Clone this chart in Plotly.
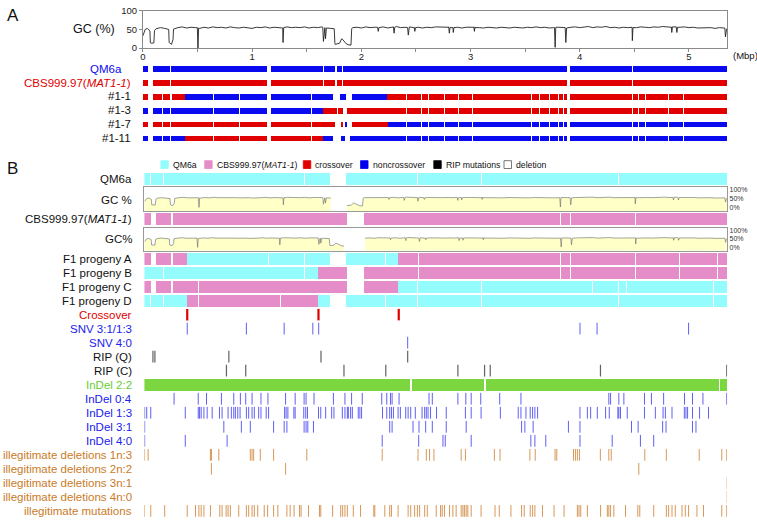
import numpy as np
import plotly.graph_objects as go

W, H = 757, 524
FONT = "Arial, 'Liberation Sans', sans-serif"
L = 5.35  # Mbp shown

# ================= Panel A data =================
GC_STEP = 0.04
GC_A = [33, 53, 13, 52, 55, 53, 15, 51, 55, 57,
        54, 56, 55, 53, 56, 54, 57, 55, 56, 54,
        57, 55, 54, 56, 55, 53, 56, 55, 57, 54,
        56, 55, 54, 57, 55, 56, 55, 57, 54, 56,
        55, 57, 54, 53, 10, 13, 20, 9, 55, 56,
        54, 57, 55, 56, 55, 57, 54, 56, 58, 55,
        56, 57, 55, 56, 54, 56, 55, 57, 56, 55,
        57, 55, 56, 54, 56, 55, 57, 55, 54, 56,
        55, 54, 56, 55, 54, 56, 55, 54, 56, 55,
        57, 55, 56, 54, 55, 56, 55, 54, 56, 57,
        55, 56, 58, 55, 57, 56, 58, 55, 56, 54,
        56, 55, 56, 55, 57, 56, 55, 57, 56, 58,
        56, 57, 58, 56, 57, 55, 56, 54, 55, 54,
        55, 53, 55, 54]
GC_DIP_X = [0.02, 0.064, 0.068, 0.100, 0.106,
            0.236, 0.262, 0.276,
            0.498, 0.504, 0.510,
            1.277, 1.283, 1.289,
            1.647, 1.653, 1.659, 1.666, 1.672, 1.678,
            1.752, 1.758, 1.82, 1.83, 1.86, 1.905, 1.912,
            2.149, 2.155, 2.161, 2.294, 2.300, 2.306, 2.424, 2.430, 2.436, 2.484, 2.490, 2.496,
            2.800, 2.806, 2.812, 2.836, 2.842, 2.848, 3.030, 3.036, 3.042,
            3.769, 3.775, 3.781, 3.867, 3.873, 3.879, 4.476, 4.482, 4.488,
            4.837, 4.843, 4.849, 4.884, 4.890, 4.896, 5.329, 5.335, 5.345]
GC_DIP_Y = [50, 46, 14, 14, 47,
            50, 10, 24,
            55, 0, 54,
            56, 15, 55,
            56, 18, 54, 55, 25, 54,
            52, 12, 25, 23, 12, 8, 52,
            56, 45, 55, 57, 40, 56, 55, 35, 56, 56, 45, 55,
            56, 40, 55, 56, 42, 55, 56, 45, 55,
            55, 2, 56, 55, 15, 54, 56, 20, 55,
            56, 42, 57, 57, 42, 56, 54, 30, 52]
A_X_TICKS = [0, 1, 2, 3, 4, 5]
A_X_MINOR = [0.5, 1.5, 2.5, 3.5, 4.5]
A_GC_TICKS = [0, 50, 100]

A_ROW_LABELS = ["QM6a", "CBS999.97(<i>MAT1-1</i>)", "#1-1", "#1-3", "#1-7", "#1-11"]

A_PAR_START = [0, 0.096, 0.260, 1.170, 1.660, 1.775, 1.834, 3.910]
A_PAR_END = [0.047, 0.248, 1.136, 1.653, 1.754, 1.820, 3.882, 5.35]
A_PAR_BREAKS = [4.487]

A_P11_START = [0, 0.096, 0.262, 0.385, 1.170, 1.811, 1.830, 1.848, 1.911, 2.237, 3.910]
A_P11_END = [0.047, 0.248, 0.385, 1.136, 1.744, 1.820, 1.839, 1.857, 2.237, 3.882, 5.35]
A_P11_PAR = "CCCQQQQQQCC"

A_P13_START = [0, 0.096, 0.260, 1.170, 1.647, 1.790, 1.805, 1.820, 1.866, 3.910]
A_P13_END = [0.047, 0.248, 1.136, 1.647, 1.775, 1.797, 1.812, 1.830, 3.882, 5.35]
A_P13_PAR = "QQQQCCCCCC"

A_P17_START = [0, 0.096, 0.260, 1.170, 1.820, 1.852, 1.911, 2.240, 3.910]
A_P17_END = [0.047, 0.248, 1.136, 1.754, 1.828, 1.860, 2.240, 3.882, 5.35]
A_P17_PAR = "CCCCCQCQQ"

A_P111_START = [0, 0.096, 0.260, 0.385, 1.170, 1.648, 1.815, 1.838, 1.898, 3.910]
A_P111_END = [0.047, 0.248, 0.385, 1.136, 1.648, 1.744, 1.823, 1.846, 3.882, 5.35]
A_P111_PAR = "QQQCCQQQQQ"

A_PROGENY_BREAKS = [0.178, 0.650, 0.883, 1.273, 1.540, 2.413, 2.550, 2.611, 2.757, 2.885,
                    3.022, 3.554, 3.630, 3.721, 3.776, 3.803, 3.848, 4.487, 4.542, 4.603,
                    4.810, 4.952]

# ================= Panel B data =================
B_QM6A_START = [0, 1.856]
B_QM6A_END = [1.710, 5.35]
B_QM6A_BREAKS = [0.064, 0.180, 1.475, 2.222, 2.512, 3.100, 4.356]

B_CBS_START = [0, 0.110, 0.262, 2.024]
B_CBS_END = [0.067, 0.247, 1.863, 5.35]
B_CBS_BREAKS = [3.823, 3.914, 4.515]

# alignment of QM6a GC track (A coordinates) onto panel B coordinates
ALIGN_Q_A = [0, 1.72, 1.755, 5.35]
ALIGN_Q_B = [0, 1.71, 1.856, 5.35]
GAP_Q = (1.710, 1.856)
ALIGN_C_A = [0, 1.756, 1.911, 1.9115, 5.35]
ALIGN_C_B = [0, 1.701, 1.838, 2.024, 5.35]
GAP_C = (1.838, 2.024)

B_FA_START = [0, 0.110, 0.262, 0.393, 1.856, 2.335]
B_FA_END = [0.067, 0.247, 0.393, 1.710, 2.335, 5.35]
B_FA_PAR = "CCCQQC"
B_FA_BREAKS = [1.140, 1.475, 2.216, 2.521, 3.823, 3.914, 4.515, 4.914, 5.265]

B_FB_START = [0, 1.598, 2.024]
B_FB_END = [1.598, 1.863, 5.35]
B_FB_PAR = "QCC"
B_FB_BREAKS = [0.180, 1.475, 2.521, 3.823, 3.914, 4.515, 4.914, 5.265]

B_FC_START = [0, 0.110, 0.262, 2.024, 2.335]
B_FC_END = [0.067, 0.247, 1.863, 2.335, 5.35]
B_FC_PAR = "CCCCQ"
B_FC_BREAKS = [0.500, 2.512, 3.100, 4.122, 4.356, 4.426, 5.225]

B_FD_START = [0, 0.393, 1.598, 1.856]
B_FD_END = [0.393, 1.598, 1.710, 5.35]
B_FD_PAR = "QCQQ"
B_FD_BREAKS = [0.064, 0.180, 0.500, 1.256, 2.216, 2.512, 3.100, 4.356, 5.225]

CROSSOVER = [0.393, 1.598, 2.335]
SNV_31 = [0.393, 0.936, 1.283, 1.546, 1.600, 3.999, 4.156, 4.996]
SNV_40 = [2.417]
RIP_Q = [0.078, 0.096, 0.775, 1.621, 2.417]
RIP_C = [0.753, 0.930, 1.832, 2.216, 2.878, 3.123, 3.175, 4.187, 5.347]
INDEL22_START = [0, 2.458, 3.137, 5.293]
INDEL22_END = [2.445, 3.124, 5.280, 5.35]
INDEL_04 = [0.272, 0.494, 0.570, 0.707, 0.820, 0.881, 0.930, 0.988, 1.070, 1.134,
            1.296, 1.384, 1.466, 1.484, 1.557, 1.735, 1.841, 1.902, 2.000, 2.179,
            2.225, 2.259, 2.274, 2.338, 2.613, 2.643, 2.878, 2.951, 3.000, 3.088,
            3.262, 3.457, 4.264, 4.280, 4.356, 4.402, 4.591, 4.655, 4.767, 4.959,
            5.032, 5.128, 5.347]
INDEL_13 = [0.002, 0.021, 0.058, 0.375, 0.494, 0.506, 0.521, 0.546, 0.576, 0.622,
            0.689, 0.713, 0.768, 0.798, 0.820, 0.835, 0.857, 0.878, 0.936, 0.957,
            0.988, 1.009, 1.049, 1.070, 1.118, 1.140, 1.287, 1.301, 1.317, 1.372,
            1.384, 1.463, 1.481, 1.497, 1.598, 1.619, 1.664, 1.719, 1.740, 1.817,
            1.841, 1.863, 1.872, 1.893, 1.909, 1.963, 1.978, 1.994, 2.186, 2.225,
            2.252, 2.268, 2.286, 2.329, 2.350, 2.399, 2.421, 2.445, 2.487, 2.549,
            2.573, 2.588, 2.604, 2.627, 2.682, 2.771, 2.947, 3.000, 3.091, 3.268,
            3.432, 3.457, 3.503, 3.542, 3.564, 3.585, 3.610, 3.999, 4.067, 4.097,
            4.158, 4.234, 4.268, 4.347, 4.356, 4.371, 4.433, 4.591, 4.691, 4.762,
            4.783, 4.844, 4.957, 4.972, 4.987, 5.032, 5.097, 5.179]
INDEL_31 = [0.002, 0.729, 0.890, 0.972, 1.186, 1.283, 1.308, 1.466, 1.484, 1.500,
            1.552, 2.252, 2.274, 2.466, 2.521, 2.582, 2.643, 2.771, 2.954, 3.463,
            3.493, 3.569, 3.893, 3.999, 4.472, 4.533, 4.758, 4.789, 5.032, 5.064]
INDEL_40 = [0.002, 0.375, 0.759, 2.183, 2.518, 2.741, 2.762, 3.000, 3.548, 3.585,
            3.685, 3.999, 4.295, 4.554, 4.676]
ILL_DEL_1N3 = [0.001, 0.034, 0.606, 0.615, 0.683, 0.972, 0.988, 1.003, 1.064, 1.186,
               1.491, 2.183, 2.512, 2.588, 2.618, 2.658, 2.908, 2.947, 3.213, 3.265,
               3.539, 3.588, 3.770, 3.786, 3.939, 3.957, 3.975, 3.994, 4.186, 4.264,
               4.286, 4.594, 4.792, 5.094, 5.301, 5.347]
ILL_DEL_2N2 = [0.615, 1.296, 4.539]
ILL_DEL_3N1 = [5.347]
ILL_DEL_4N0 = [5.347]
ILL_MUT = [0.001, 0.058, 0.186, 0.393, 0.469, 0.500, 0.521, 0.546, 0.606, 0.692,
           0.713, 0.750, 0.768, 0.789, 0.866, 0.936, 0.957, 0.988, 1.009, 1.040,
           1.100, 1.131, 1.186, 1.225, 1.308, 1.338, 1.374, 1.424, 1.438, 1.506,
           1.607, 1.619, 1.728, 1.802, 1.820, 1.841, 1.863, 1.918, 1.984, 2.106,
           2.115, 2.207, 2.252, 2.268, 2.329, 2.421, 2.445, 2.481, 2.506, 2.527,
           2.573, 2.597, 2.679, 2.719, 2.734, 2.755, 2.801, 2.832, 2.862, 2.908,
           2.924, 2.938, 2.954, 2.969, 3.000, 3.091, 3.219, 3.258, 3.365, 3.463,
           3.487, 3.542, 3.564, 3.585, 3.655, 3.761, 3.853, 3.975, 3.990, 4.006,
           4.067, 4.188, 4.250, 4.264, 4.280, 4.310, 4.417, 4.530, 4.548, 4.676,
           4.792, 4.813, 4.844, 4.874, 4.936, 4.966, 4.996, 5.073, 5.133, 5.301,
           5.347]

B_ROW_LABELS = ["F1 progeny A", "F1 progeny B", "F1 progeny C", "F1 progeny D",
                "Crossover", "SNV 3:1/1:3", "SNV 4:0", "RIP (Q)", "RIP (C)",
                "InDel 2:2", "InDel 0:4", "InDel 1:3", "InDel 3:1", "InDel 4:0",
                "illegitimate deletions 1n:3", "illegitimate deletions 2n:2",
                "illegitimate deletions 3n:1", "illegitimate deletions 4n:0",
                "illegitimate mutations"]
LEGEND_LABELS = ["QM6a", "CBS999.97(<i>MAT1-1</i>)", "crossover", "noncrossover",
                 "RIP mutations", "deletion"]

# ================= styles =================
BLUE_A, RED_A = "#0A0AF0", "#E00000"
CYAN, PINK = "#94FCFC", "#E58DC8"
GREEN = "#7BD63F"
TXT_BLUE, TXT_RED, TXT_GREEN, TXT_ORANGE = "#2020EE", "#E00000", "#66CC33", "#C97B28"
B_LABEL_COLORS = ["#111"] * 4 + [TXT_RED, TXT_BLUE, TXT_BLUE, "#111", "#111", TXT_GREEN] + \
                 [TXT_BLUE] * 4 + [TXT_ORANGE] * 5
GC_BOX_RANGE = [-20, 115]
LBL = 11.5


def xd(a, b):
    return [a / W, b / W]


def yd(top, bottom):
    return [1 - bottom / H, 1 - top / H]


def py(p):
    return 1 - p / H


def split(starts, ends, parents, breaks, gap=0.009):
    out = []
    for s, e, p in zip(starts, ends, parents):
        cur = s
        for b in sorted(b for b in breaks if s < b < e):
            out.append((cur, b - gap / 2, p))
            cur = b + gap / 2
        out.append((cur, e, p))
    return out


fig = go.Figure()


def add_bars(segs, row, cmap, xa, ya, width):
    for key, col in cmap.items():
        sel = [s for s in segs if s[2] == key]
        if not sel:
            continue
        fig.add_trace(go.Bar(orientation="h", base=[s[0] for s in sel],
                             x=[s[1] - s[0] for s in sel], y=[row] * len(sel),
                             width=width, marker=dict(color=col, line=dict(width=0)),
                             xaxis=xa, yaxis=ya, hoverinfo="skip", showlegend=False))


def add_ticks(pos, row, color, width=1.0, half=0.42):
    xs, ys = [], []
    for p in pos:
        xs += [p, p, None]
        ys += [row - half, row + half, None]
    fig.add_trace(go.Scatter(x=xs, y=ys, mode="lines", line=dict(color=color, width=width),
                             xaxis="x3", yaxis="y5", hoverinfo="skip", showlegend=False))


# ---- Panel A GC ----
gc_pts = sorted(zip([i * GC_STEP for i in range(len(GC_A))] + GC_DIP_X, GC_A + GC_DIP_Y))
GC_X = [p[0] for p in gc_pts]
GC_Y = [p[1] for p in gc_pts]
fig.add_trace(go.Scatter(x=GC_X, y=GC_Y, mode="lines", line=dict(color="#222", width=0.9),
                         xaxis="x", yaxis="y", hoverinfo="skip", showlegend=False))

# ---- Panel A genome rows ----
amap = {"Q": BLUE_A, "C": RED_A}
add_bars(split(A_PAR_START, A_PAR_END, "Q" * len(A_PAR_START), A_PAR_BREAKS), 0, amap, "x2", "y2", 0.42)
add_bars(split(A_PAR_START, A_PAR_END, "C" * len(A_PAR_START), A_PAR_BREAKS), 1, amap, "x2", "y2", 0.42)
for r, (s, e, p) in enumerate([(A_P11_START, A_P11_END, A_P11_PAR), (A_P13_START, A_P13_END, A_P13_PAR),
                               (A_P17_START, A_P17_END, A_P17_PAR), (A_P111_START, A_P111_END, A_P111_PAR)]):
    add_bars(split(s, e, p, A_PROGENY_BREAKS), r + 2, amap, "x2", "y2", 0.42)

# ---- Panel B genome rows ----
bmap = {"Q": CYAN, "C": PINK}
add_bars(split(B_QM6A_START, B_QM6A_END, "Q" * 2, B_QM6A_BREAKS), 0, bmap, "x3", "y3", 1.0)
add_bars(split(B_CBS_START, B_CBS_END, "C" * 4, B_CBS_BREAKS), 0, bmap, "x3", "y4", 1.0)
for r, (s, e, p, b) in enumerate([(B_FA_START, B_FA_END, B_FA_PAR, B_FA_BREAKS),
                                  (B_FB_START, B_FB_END, B_FB_PAR, B_FB_BREAKS),
                                  (B_FC_START, B_FC_END, B_FC_PAR, B_FC_BREAKS),
                                  (B_FD_START, B_FD_END, B_FD_PAR, B_FD_BREAKS)]):
    add_bars(split(s, e, p, b), r, bmap, "x3", "y5", 0.88)
add_bars(split(INDEL22_START, INDEL22_END, "G" * 4, []), 9, {"G": GREEN}, "x3", "y5", 0.88)


# ---- Panel B GC boxes ----
def map_gc(anch_a, anch_b, gap):
    xs = np.interp(GC_X, anch_a, anch_b)
    ox, oy, prev = [], [], None
    for x, y in zip(xs, GC_Y):
        if gap[0] < x < gap[1]:
            continue
        if prev is not None and prev <= gap[0] and x >= gap[1]:
            ox.append(None)
            oy.append(None)
        ox.append(float(x))
        oy.append(y)
        prev = x
    return ox, oy


def add_gc_box(ox, oy, xa, ya):
    # yellow area under the curve, per continuous segment
    fx, fy, seg = [], [], []
    for x, y in list(zip(ox, oy)) + [(None, None)]:
        if x is None:
            if seg:
                sx = [p[0] for p in seg]
                sy = [p[1] for p in seg]
                fx += sx + sx[::-1] + [None]
                fy += sy + [GC_BOX_RANGE[0]] * len(sx) + [None]
            seg = []
        else:
            seg.append((x, y))
    fig.add_trace(go.Scatter(x=fx, y=fy, mode="lines", fill="toself", fillcolor="#FFFFC8",
                             line=dict(width=0), xaxis=xa, yaxis=ya, hoverinfo="skip",
                             showlegend=False))
    fig.add_trace(go.Scatter(x=ox, y=oy, mode="lines", line=dict(color="#666", width=0.6),
                             connectgaps=False, xaxis=xa, yaxis=ya, hoverinfo="skip",
                             showlegend=False))


qx, qy = map_gc(ALIGN_Q_A, ALIGN_Q_B, GAP_Q)
add_gc_box(qx, qy, "x4", "y6")
cx, cy = map_gc(ALIGN_C_A, ALIGN_C_B, GAP_C)
add_gc_box(cx, cy, "x5", "y7")

# ---- Panel B event tracks ----
blue_t = "rgba(35,35,240,0.72)"
orange_t = "rgba(205,125,45,0.8)"
grey_t = "rgba(45,45,45,0.75)"
add_ticks(CROSSOVER, 4, "#E00000", width=2.2, half=0.41)
add_ticks(SNV_31, 5, blue_t)
add_ticks(SNV_40, 6, blue_t)
add_ticks(RIP_Q, 7, grey_t, width=1.2)
add_ticks(RIP_C, 8, grey_t, width=1.2)
add_ticks(INDEL_04, 10, blue_t)
add_ticks(INDEL_13, 11, blue_t)
add_ticks(INDEL_31, 12, blue_t)
add_ticks(INDEL_40, 13, blue_t)
add_ticks(ILL_DEL_1N3, 14, orange_t)
add_ticks(ILL_DEL_2N2, 15, orange_t)
add_ticks(ILL_DEL_3N1, 16, "rgba(205,125,45,0.35)")
add_ticks(ILL_DEL_4N0, 17, "rgba(205,125,45,0.35)")
add_ticks(ILL_MUT, 18, orange_t)

# ================= annotations =================
ann = []


def text(x, y, s, size=LBL, color="#111", xanchor="right", yref="paper"):
    ann.append(dict(x=x / W, xref="paper", y=y, yref=yref, text=s, showarrow=False,
                    xanchor=xanchor, yanchor="middle", font=dict(family=FONT, size=size, color=color)))


text(2, py(10), "A", size=17, xanchor="left")
text(2, py(166), "B", size=17, xanchor="left")
text(114, py(24), "GC (%)", size=12.5)
text(731, py(51), "(Mbp)", size=9.5, xanchor="left")

A_LABEL_COLORS = [BLUE_A, RED_A, "#111", "#111", "#111", "#111"]
for i, (lab, col) in enumerate(zip(A_ROW_LABELS, A_LABEL_COLORS)):
    text(121 if i == 0 else 131, i, lab, color=col, yref="y2")

text(131.5, 0, "QM6a", yref="y3")
text(131.5, py(198), "GC %")
text(131.5, 0, "CBS999.97(<i>MAT1-1</i>)", yref="y4")
text(131.5, py(238.5), "GC%")
for i, (lab, col) in enumerate(zip(B_ROW_LABELS, B_LABEL_COLORS)):
    text(131.5, i, lab, color=col, yref="y5")

# legend (panel B)
LEG_SW_X = [158.5, 202.5, 301.5, 359, 432.5, 503]
LEG_COLORS = [CYAN, PINK, "#E00000", "#0000EE", "#000000", "#FFFFFF"]
shapes = []
for x0, col, lab in zip(LEG_SW_X, LEG_COLORS, LEGEND_LABELS):
    shapes.append(dict(type="rect", xref="paper", yref="paper", x0=x0 / W, x1=(x0 + 7.5) / W,
                       y0=py(166), y1=py(158), fillcolor=col,
                       line=dict(color="#555" if col == "#FFFFFF" else col, width=0.8)))
    text(x0 + 10, py(162), lab, size=8.7, xanchor="left")

# ================= layout =================
noax = dict(visible=False, showgrid=False, zeroline=False)
fig.update_layout(
    width=W, height=H, margin=dict(l=0, r=0, t=0, b=0),
    paper_bgcolor="white", plot_bgcolor="rgba(0,0,0,0)",
    barmode="overlay", bargap=0, showlegend=False,
    font=dict(family=FONT, color="#111"),
    annotations=ann, shapes=shapes,
    xaxis=dict(domain=xd(140.5, 727), range=[0, L], anchor="y", showline=True, mirror=True,
               linecolor="#8a8a8a", linewidth=1, ticks="outside", ticklen=3, tickcolor="#8a8a8a",
               tickvals=A_X_TICKS, tickfont=dict(size=9.5, color="#222"), showgrid=False,
               zeroline=False, ticklabelstandoff=-3,
               minor=dict(tickvals=A_X_MINOR, ticks="outside", ticklen=3, tickcolor="#8a8a8a")),
    yaxis=dict(domain=yd(5, 43), range=[0, 100], anchor="x", showline=True, mirror=True,
               linecolor="#8a8a8a", linewidth=1, ticks="outside", ticklen=3, tickcolor="#8a8a8a",
               tickvals=A_GC_TICKS, tickfont=dict(size=9.5, color="#222"), showgrid=False,
               zeroline=False),
    xaxis2=dict(domain=xd(140.5, 727), range=[0, L], anchor="y2", **noax),
    yaxis2=dict(domain=yd(56.9, 142.1), range=[5.5, -0.5], anchor="x2", **noax),
    xaxis3=dict(domain=xd(142, 727), range=[0, L], anchor="y5", **noax),
    yaxis3=dict(domain=yd(170.5, 183), range=[-0.5, 0.5], anchor="x3", **noax),
    yaxis4=dict(domain=yd(211.5, 224), range=[-0.5, 0.5], anchor="x3", **noax),
    yaxis5=dict(domain=yd(250.8, 522.9), range=[18.5, -0.5], anchor="x3", **noax),
    xaxis4=dict(domain=xd(142, 727), range=[0, L], anchor="y6", showline=True, mirror=True,
                linecolor="#999", linewidth=1, ticks="", showticklabels=False,
                showgrid=False, zeroline=False),
    yaxis6=dict(domain=yd(185, 209.3), range=GC_BOX_RANGE, anchor="x4", side="right",
                showline=True, mirror=True, linecolor="#999", linewidth=1, ticks="",
                tickvals=[0, 50, 100], ticktext=["0%", "50%", "100%"],
                tickfont=dict(size=7, color="#333"), showgrid=False, zeroline=False),
    xaxis5=dict(domain=xd(142, 727), range=[0, L], anchor="y7", showline=True, mirror=True,
                linecolor="#999", linewidth=1, ticks="", showticklabels=False,
                showgrid=False, zeroline=False),
    yaxis7=dict(domain=yd(226.7, 250), range=GC_BOX_RANGE, anchor="x5", side="right",
                showline=True, mirror=True, linecolor="#999", linewidth=1, ticks="",
                tickvals=[0, 50, 100], ticktext=["0%", "50%", "100%"],
                tickfont=dict(size=7, color="#333"), showgrid=False, zeroline=False),
)

fig.write_html("out.html", config={"displayModeBar": False},
               post_script="document.body.style.margin='0px';")
